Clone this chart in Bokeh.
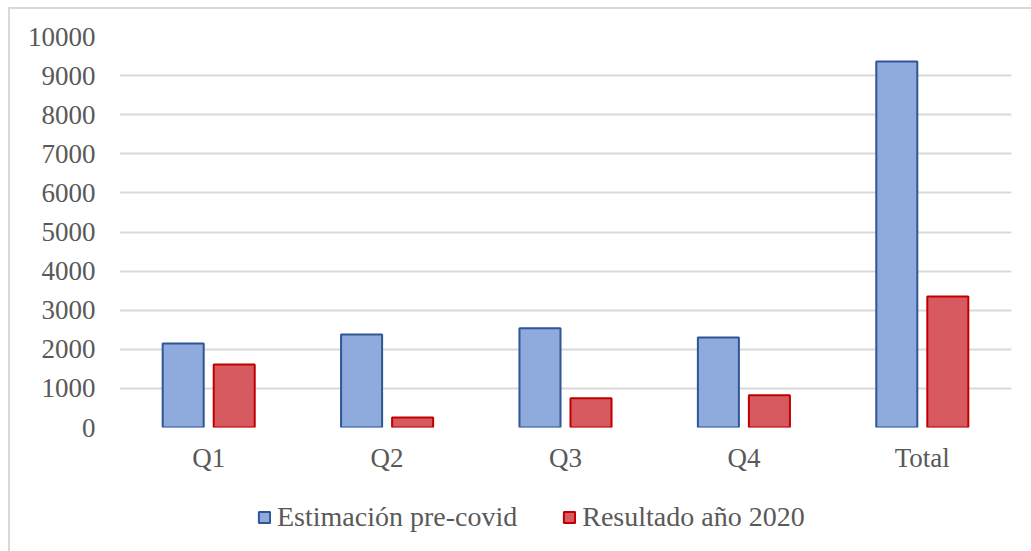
import numpy as np
from bokeh.plotting import figure
from bokeh.models import ColumnDataSource, FactorRange, Range1d, Legend, LegendItem, FixedTicker
from bokeh.layouts import column
from bokeh.transform import dodge
from bokeh.embed import file_html
from bokeh.resources import INLINE

categories = ["Q1", "Q2", "Q3", "Q4", "Total"]
estimacion = [2150, 2380, 2540, 2300, 9360]
resultado = [1610, 255, 745, 825, 3350]
y_ticks = [0, 1000, 2000, 3000, 4000, 5000, 6000, 7000, 8000, 9000, 10000]
series_names = ["Estimación pre-covid", "Resultado año 2020"]

src = ColumnDataSource(dict(cat=categories, est=estimacion, res=resultado))

FONT = "Liberation Serif"
TXT = "#595959"
BLUE_FILL, BLUE_LINE = "#8FAADC", "#2F5597"
RED_FILL, RED_LINE = "#D65A60", "#C00000"

p = figure(x_range=FactorRange(*categories, range_padding=0), y_range=Range1d(0, 10000),
           width=1021, height=472, output_backend="svg", toolbar_location=None,
           min_border_left=109, min_border_right=20, min_border_top=27, min_border_bottom=54)
p.outline_line_color = None
p.background_fill_color = "white"
p.border_fill_color = "white"

p.vbar(x=dodge("cat", -0.143, range=p.x_range), top="est", width=0.23, source=src,
       fill_color=BLUE_FILL, line_color=BLUE_LINE, line_width=2)
p.vbar(x=dodge("cat", 0.143, range=p.x_range), top="res", width=0.23, source=src,
       fill_color=RED_FILL, line_color=RED_LINE, line_width=2)

p.xgrid.grid_line_color = None
p.ygrid.grid_line_color = "#D9D9D9"
p.ygrid.grid_line_width = 2
p.ygrid.ticker = FixedTicker(ticks=y_ticks)
p.yaxis.ticker = FixedTicker(ticks=y_ticks)

for ax in (p.xaxis, p.yaxis):
    ax.axis_line_color = None
    ax.major_tick_line_color = None
    ax.minor_tick_line_color = None
    ax.major_tick_out = 0
    ax.major_label_text_font = FONT
    ax.major_label_text_font_size = "27px"
    ax.major_label_text_color = TXT
p.yaxis.major_label_standoff = 24
p.xaxis.major_label_standoff = 15

# legend strip below the chart (swatch renderers hold no drawable point)
lg = figure(width=1021, height=70, output_backend="svg", toolbar_location=None,
            x_range=Range1d(0, 1), y_range=Range1d(0, 1),
            x_axis_type=None, y_axis_type=None,
            min_border_left=109, min_border_right=20, min_border_top=0, min_border_bottom=0)
lg.outline_line_color = None
lg.grid.grid_line_color = None
lg.background_fill_color = "white"
lg.border_fill_color = "white"
nan = np.array([np.nan])
l1 = lg.vbar(x=nan, top=nan, bottom=nan, width=0.1,
             fill_color=BLUE_FILL, line_color=BLUE_LINE, line_width=2)
l2 = lg.vbar(x=nan, top=nan, bottom=nan, width=0.1,
             fill_color=RED_FILL, line_color=RED_LINE, line_width=2)

legend = Legend(items=[LegendItem(label=series_names[0], renderers=[l1]),
                       LegendItem(label=series_names[1], renderers=[l2])],
                orientation="horizontal", location=(138, 18),
                glyph_width=14, glyph_height=14, label_standoff=6, spacing=45,
                padding=0, margin=0, border_line_color=None, background_fill_alpha=0,
                label_text_font=FONT, label_text_font_size="28px", label_text_color=TXT)
lg.add_layout(legend, "center")

layout = column(p, lg, spacing=0)
layout.styles = {"margin-left": "8px", "margin-top": "7px",
                 "border-left": "2px solid #d9d9d9", "border-top": "2px solid #d9d9d9"}

open("out.html", "w").write(file_html(layout, INLINE))
